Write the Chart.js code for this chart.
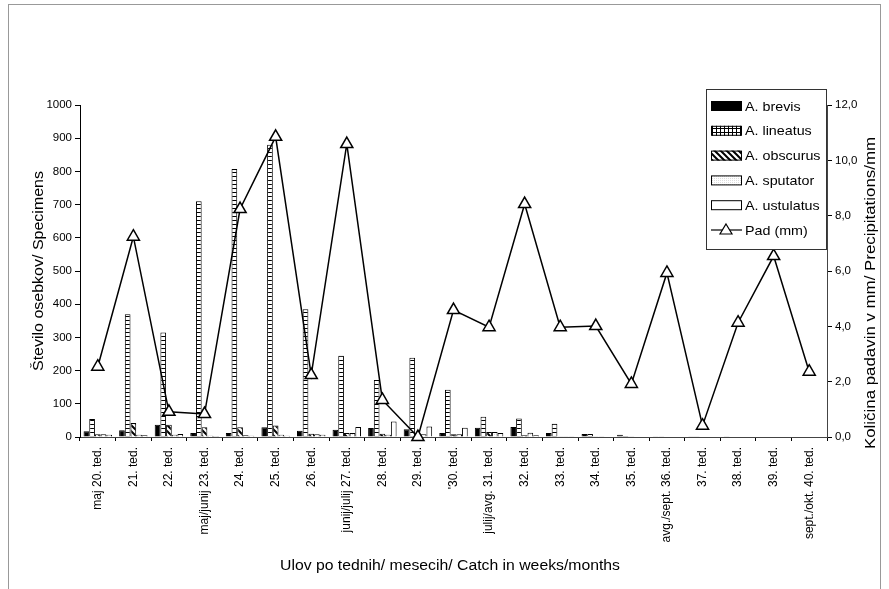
<!DOCTYPE html>
<html>
<head>
<meta charset="utf-8">
<script src="https://cdn.jsdelivr.net/npm/chart.js@4/dist/chart.umd.min.js"></script>
<style>
  body { margin: 0; background: #fff; }
  #wrap { position: relative; width: 889px; height: 589px; }
</style>
</head>
<body>
<div id="wrap"><canvas id="c" width="889" height="589"></canvas></div>
<script>
const weeks = ['maj 20. ted.', '21. ted.', '22. ted.', 'maj/junij 23. ted.', '24. ted.', '25. ted.',
  '26. ted.', 'junij/julij 27. ted.', '28. ted.', '29. ted.', "'30. ted.", 'julij/avg. 31. ted.',
  '32. ted.', '33. ted.', '34. ted.', '35. ted.', 'avg./sept. 36. ted.', '37. ted.', '38. ted.',
  '39. ted.', 'sept./okt. 40. ted.'];

const brevis    = [17, 20, 37, 12, 12, 29, 19, 22, 27, 23, 12, 28, 30, 12, 9, 7, 2, 2, 1, 0, 0];
const lineatus  = [54, 370, 315, 710, 807, 880, 385, 245, 172, 239, 142, 61, 56, 40, 9, 3, 1, 1, 0, 0, 0];
const obscurus  = [8, 42, 37, 29, 29, 35, 10, 12, 10, 10, 8, 15, 5, 2, 2, 1, 0, 0, 0, 0, 0];
const sputator  = [8, 7, 7, 4, 5, 7, 8, 12, 7, 8, 8, 15, 13, 2, 1, 0, 0, 0, 0, 0, 0];
const ustulatus = [7, 5, 9, 3, 4, 4, 7, 30, 47, 32, 28, 12, 5, 1, 0, 0, 0, 0, 0, 0, 0];
const pad = [2.54, 7.24, 0.91, 0.83, 8.24, 10.85, 2.24, 10.59, 1.34, 0.0, 4.59, 3.97, 8.42,
  3.97, 4.01, 1.92, 5.93, 0.41, 4.13, 6.54, 2.36];

const FONT = '"Liberation Sans", Arial, sans-serif';

function makePattern(kind) {
  const c = document.createElement('canvas');
  const ctx = c.getContext('2d');
  if (kind === 'ladder') {
    c.width = 4; c.height = 4;
    ctx.fillStyle = '#fff'; ctx.fillRect(0, 0, 4, 4);
    ctx.fillStyle = '#000'; ctx.fillRect(0, 0, 4, 1);
  } else if (kind === 'grid') {
    c.width = 4; c.height = 4;
    ctx.fillStyle = '#fff'; ctx.fillRect(0, 0, 4, 4);
    ctx.fillStyle = '#000';
    ctx.fillRect(0, 0, 4, 1);
    ctx.fillRect(0, 0, 1, 4);
  } else if (kind === 'diag') {
    c.width = 6; c.height = 6;
    ctx.fillStyle = '#fff'; ctx.fillRect(0, 0, 6, 6);
    ctx.strokeStyle = '#000'; ctx.lineWidth = 2;
    ctx.beginPath();
    ctx.moveTo(-1, -1); ctx.lineTo(7, 7);
    ctx.moveTo(-4, 2); ctx.lineTo(4, 10);
    ctx.moveTo(2, -4); ctx.lineTo(10, 4);
    ctx.stroke();
  } else if (kind === 'dots') {
    c.width = 2; c.height = 2;
    ctx.fillStyle = '#fff'; ctx.fillRect(0, 0, 2, 2);
    ctx.fillStyle = '#ddd'; ctx.fillRect(0, 0, 1, 1);
  }
  return ctx.createPattern(c, 'repeat');
}

// text stretched sideways, the scanned lettering is wider than Arial
function wideText(ctx, text, x, y, size, width, angle) {
  ctx.save();
  ctx.font = size + 'px ' + FONT;
  const sx = width ? width / ctx.measureText(text).width : 1;
  ctx.translate(x, y);
  if (angle) ctx.rotate(angle);
  ctx.scale(sx, 1);
  ctx.fillText(text, 0, 0);
  ctx.restore();
}

// legend inside the plot, top right, like the original
const boxLegend = {
  id: 'boxLegend',
  afterDatasetsDraw(chart) {
    const ctx = chart.ctx;
    const x0 = 706, y0 = 89, w = 121, h = 161;
    ctx.save();
    ctx.fillStyle = '#fff';
    ctx.fillRect(x0, y0, w, h);
    ctx.strokeStyle = '#333';
    ctx.lineWidth = 1;
    ctx.strokeRect(x0 + 0.5, y0 + 0.5, w - 1, h - 1);
    ctx.textBaseline = 'middle';
    ctx.textAlign = 'left';
    ctx.font = '13px ' + FONT;
    chart.data.datasets.forEach((ds, i) => {
      const y = 106 + i * 24.8;
      if (ds.type === 'line') {
        ctx.beginPath();
        ctx.moveTo(711, y); ctx.lineTo(742, y);
        ctx.lineWidth = 1.2; ctx.strokeStyle = '#000'; ctx.stroke();
        ctx.fillStyle = '#fff';
        ctx.beginPath();
        ctx.moveTo(726, y - 6); ctx.lineTo(732, y + 4); ctx.lineTo(720, y + 4); ctx.closePath();
        ctx.fill(); ctx.stroke();
      } else {
        ctx.fillStyle = ds.legendFill || ds.backgroundColor;
        ctx.fillRect(711, y - 5, 31, 10);
        ctx.strokeStyle = '#000'; ctx.lineWidth = 1;
        ctx.strokeRect(711.5, y - 4.5, 30, 9);
      }
      ctx.fillStyle = '#000';
      const w13 = ctx.measureText(ds.label).width;
      wideText(ctx, ds.label, 745, y + 1, 13, Math.min(w13 * 1.1, 78));
    });
    ctx.restore();
  }
};

// axis titles and the outer frame
const titles = {
  id: 'titles',
  afterDraw(chart) {
    const ctx = chart.ctx;
    ctx.save();
    ctx.fillStyle = '#000';
    ctx.textAlign = 'center';
    ctx.textBaseline = 'middle';
    wideText(ctx, 'Ulov po tednih/ mesecih/ Catch in weeks/months', 450, 566, 14, 340);
    wideText(ctx, 'Število osebkov/ Specimens', 39, 271, 14, 200, -Math.PI / 2);
    wideText(ctx, 'Količina padavin v mm/ Precipitations/mm', 871, 293, 14, 312, -Math.PI / 2);
    ctx.strokeStyle = '#999';
    ctx.lineWidth = 1;
    ctx.strokeRect(8.5, 4.5, 872, 590);
    ctx.restore();
  }
};

const barStyle = { borderColor: '#000', borderWidth: 1, yAxisID: 'y', order: 2 };

new Chart(document.getElementById('c'), {
  type: 'bar',
  data: {
    labels: weeks,
    datasets: [
      { ...barStyle, label: 'A. brevis', data: brevis, backgroundColor: '#000' },
      { ...barStyle, label: 'A. lineatus', data: lineatus, backgroundColor: makePattern('ladder'), legendFill: makePattern('grid') },
      { ...barStyle, label: 'A. obscurus', data: obscurus, backgroundColor: makePattern('diag') },
      { ...barStyle, label: 'A. sputator', data: sputator, backgroundColor: makePattern('dots') },
      { ...barStyle, label: 'A. ustulatus', data: ustulatus, backgroundColor: '#fff' },
      {
        type: 'line', label: 'Pad (mm)', data: pad, yAxisID: 'y1', order: 1,
        borderColor: '#000', borderWidth: 1.5, tension: 0, clip: false,
        pointStyle: 'triangle', pointRadius: 7, pointBorderWidth: 1.5,
        pointBackgroundColor: '#fff', pointBorderColor: '#000'
      }
    ]
  },
  options: {
    responsive: false,
    animation: false,
    events: [],
    layout: { padding: { top: 105, left: 0, right: 0, bottom: 0 } },
    datasets: { bar: { categoryPercentage: 0.8, barPercentage: 1.0 } },
    plugins: { legend: { display: false }, tooltip: { enabled: false } },
    scales: {
      x: {
        offset: true,
        grid: { display: true, offset: true, drawOnChartArea: false, color: '#000', tickLength: 4 },
        border: { display: true, color: '#444' },
        ticks: {
          autoSkip: false, minRotation: 90, maxRotation: 90, padding: 6,
          color: '#000', font: { family: FONT, size: 12 }
        },
        afterFit(s) { s.height = 152; }
      },
      y: {
        position: 'left', min: 0, max: 1000,
        grid: { drawOnChartArea: false, color: '#000', tickLength: 5 },
        border: { display: true, color: '#000' },
        ticks: {
          stepSize: 100, padding: 3, color: '#000', font: { family: FONT, size: 11.5 },
          callback: v => String(v)
        },
        afterFit(s) { s.width = 80; }
      },
      y1: {
        position: 'right', min: 0, max: 12,
        grid: { drawOnChartArea: false, color: '#000', tickLength: 5 },
        border: { display: true, color: '#444' },
        ticks: {
          stepSize: 2, padding: 3, color: '#000', font: { family: FONT, size: 11.5 },
          callback: v => v.toFixed(1).replace('.', ',')
        },
        afterFit(s) { s.width = 62; }
      }
    }
  },
  plugins: [boxLegend, titles]
});
</script>
</body>
</html>
